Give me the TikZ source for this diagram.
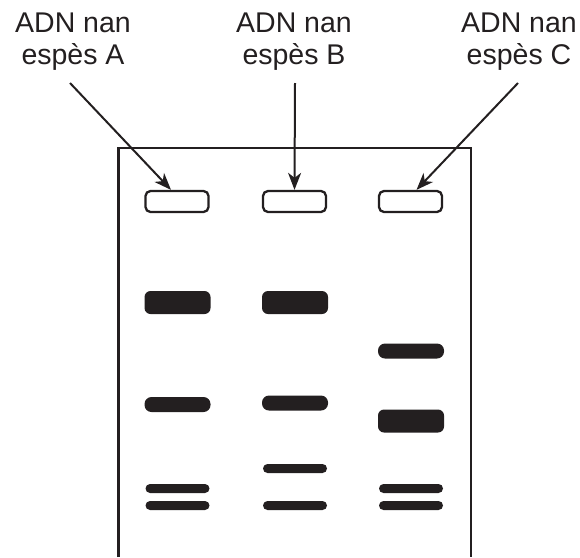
\documentclass[tikz,border=0pt]{standalone}
\usepackage{fontspec}
\setmainfont{Liberation Sans}
\usetikzlibrary{arrows.meta}
\usetikzlibrary{positioning}
\definecolor{gelink}{HTML}{231F20}
\tikzset{
    well/.style={
           rectangle,
           rounded corners=5pt,
           draw=gelink, line width=2.3pt,
           minimum width=63pt, minimum height=21pt,
           inner sep=0pt,
           },
}
\tikzset{
    thickband/.style={
           rectangle,
           rounded corners=6pt,
           fill=gelink,
           minimum width=66pt, minimum height=23pt,
           inner sep=0pt,
           },
    midband/.style={
           rectangle,
           rounded corners=7pt,
           fill=gelink,
           minimum width=66pt, minimum height=15pt,
           inner sep=0pt,
           },
    thinband/.style={
           rectangle,
           rounded corners=4.5pt,
           fill=gelink,
           minimum width=64pt, minimum height=9pt,
           inner sep=0pt,
           },
}
\tikzset{
    species/.style={
           align=center,
           anchor=north,
           inner sep=0pt,
           font=\fontsize{28.5}{32}\selectfont,
           text=gelink,
           },
    pointer/.style={
           draw=gelink, line width=2pt,
           -{Stealth[length=17pt,width=13pt,inset=5pt]},
           },
}

\begin{document}
\begin{tikzpicture}[x=1pt,y=-1pt]
\useasboundingbox (0,0) rectangle (580,557);
% gel
\draw[gelink, line width=2.3pt] (118.5,557) -- (118.5,148) -- (471,148) -- (471,557);
% wells
\node[well](wellA) at (177,201.5){};
\node[well,right of = wellA,node distance=117.5pt](wellB){};
\node[well,right of = wellB,node distance=116pt](wellC){};
% bands, lane A
\node[thickband](bandA1) at (177.5,302.5){};
\node[midband](bandA2) at (177.5,404.5){};
\node[thinband](bandA3) at (177.5,488.5){};
\node[thinband](bandA4) at (177.5,505.5){};
% bands, lane B
\node[thickband](bandB1) at (295,302.5){};
\node[midband](bandB2) at (295,403){};
\node[thinband](bandB3) at (295,468.5){};
\node[thinband](bandB4) at (295,505.5){};
% bands, lane C
\node[midband](bandC1) at (411,351){};
\node[thickband](bandC2) at (411,421){};
\node[thinband](bandC3) at (411,488.5){};
\node[thinband](bandC4) at (411,505.5){};
% labels
\node[species](labA) at (73,13){ADN nan\\espès A};
\node[species](labB) at (294,13){ADN nan\\espès B};
\node[species](labC) at (519,13){ADN nan\\espès C};
\coordinate (fromA) at (70,83);
\coordinate (fromB) at (295,83);
\coordinate (fromC) at (518,83);
\draw[pointer] (fromA) -- ([xshift=-6pt]wellA.north);
\draw[pointer] (fromB) -- (wellB.north);
\draw[pointer] (fromC) -- ([xshift=6pt]wellC.north);
\end{tikzpicture}
\end{document}
